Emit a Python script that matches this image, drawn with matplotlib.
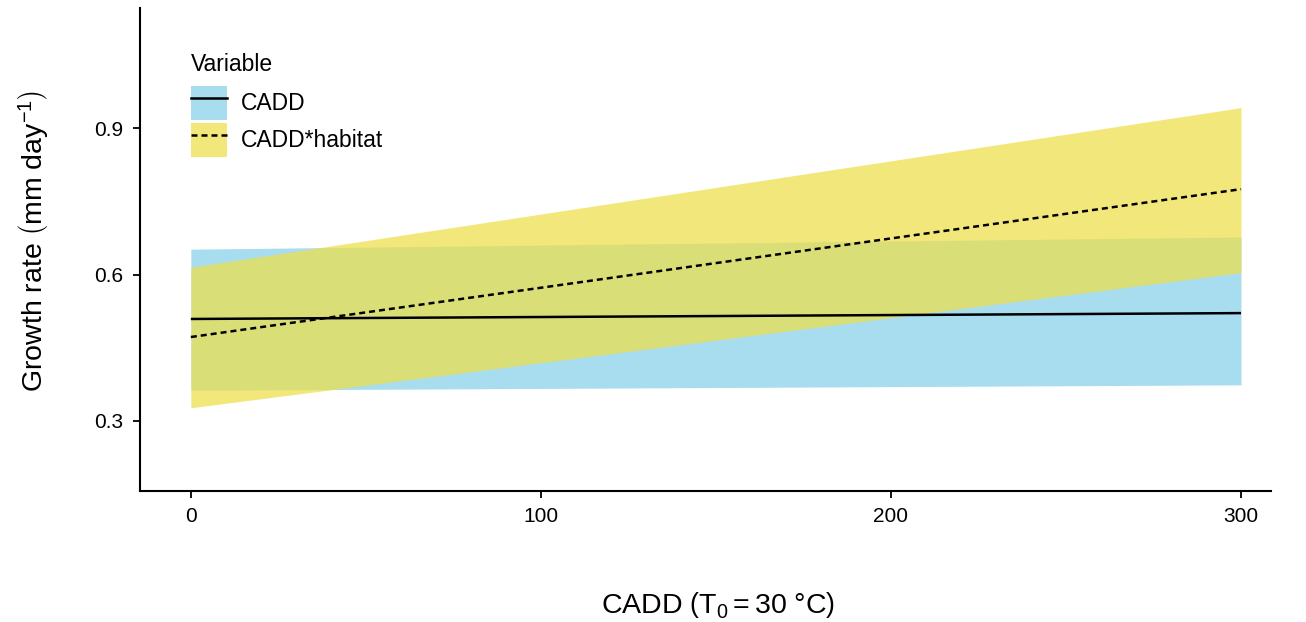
import matplotlib
matplotlib.use("Agg")
import matplotlib.pyplot as plt
from matplotlib.patches import Patch
from matplotlib.lines import Line2D
from matplotlib.legend_handler import HandlerTuple

plt.rcParams['font.family'] = ['Liberation Sans', 'DejaVu Sans']
plt.rcParams['mathtext.fontset'] = 'custom'
plt.rcParams['mathtext.rm'] = 'Liberation Sans'
plt.rcParams['mathtext.it'] = 'Liberation Sans:italic'

# Data
cadd = [0, 300]
cadd_fit = [0.509, 0.521]
cadd_lo = [0.363, 0.374]
cadd_hi = [0.652, 0.677]
hab_fit = [0.472, 0.775]
hab_lo = [0.327, 0.604]
hab_hi = [0.615, 0.942]
x_ticks = [0, 100, 200, 300]
y_ticks = [0.3, 0.6, 0.9]

blue = '#a8dcef'
yellow = '#eedf49'
dash = (0, (2.4, 1.6))

fig = plt.figure(figsize=(13.06, 6.22), dpi=100)
ax = fig.add_axes([0.107, 0.211, 0.866, 0.776])

ax.fill_between(cadd, cadd_lo, cadd_hi, color=blue, lw=0)
ax.fill_between(cadd, hab_lo, hab_hi, color=yellow, alpha=0.73, lw=0)
ax.plot(cadd, cadd_fit, color='black', lw=1.8, solid_capstyle='butt')
ax.plot(cadd, hab_fit, color='black', lw=1.8, ls=dash)

ax.set_xlim(-14.6, 308.5)
ax.set_ylim(0.157, 1.146)
ax.set_xticks(x_ticks)
ax.set_xticklabels([str(v) for v in x_ticks])
ax.set_yticks(y_ticks)
ax.set_yticklabels([f"{v:.1f}" for v in y_ticks])
for s in ['top', 'right']:
    ax.spines[s].set_visible(False)
for s in ['left', 'bottom']:
    ax.spines[s].set_linewidth(1.5)
ax.tick_params(axis='both', length=5, width=1.3, labelsize=15, pad=7, colors='black')

ax.set_xlabel(r"CADD $\left(\mathrm{T_0 = 30\ °C}\right)$", fontsize=20.5)
ax.set_ylabel(r"Growth rate $\left(\mathrm{mm\ day^{-1}}\right)$", fontsize=20.5)
ax.xaxis.set_label_coords(0.511, -0.205)
ax.yaxis.set_label_coords(-0.0786, 0.518)

h1 = (Patch(facecolor=blue, edgecolor='none'), Line2D([], [], color='black', lw=1.8))
h2 = (Patch(facecolor=yellow, alpha=0.73, edgecolor='none'), Line2D([], [], color='black', lw=1.8, ls=dash))
leg = ax.legend([h1, h2], ['CADD', 'CADD*habitat'], title='Variable',
                handler_map={tuple: HandlerTuple(ndivide=1, pad=0)},
                loc='upper left', bbox_to_anchor=(0.146, 0.915), bbox_transform=fig.transFigure,
                frameon=False, fontsize=16.5, title_fontsize=16.5, handlelength=1.57, handleheight=1.91,
                handletextpad=0.6, labelspacing=0.13, alignment='left', borderaxespad=0,
                borderpad=0)
leg._legend_box.sep = 7.1

fig.savefig('out.png', dpi=100)
